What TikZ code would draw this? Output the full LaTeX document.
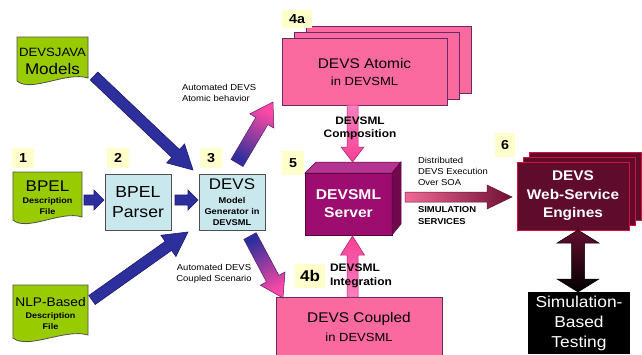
\documentclass[tikz,border=0pt]{standalone}
\usepackage{fontspec}
\setmainfont{Liberation Sans}[FakeStretch=1.1]
\usetikzlibrary{calc,backgrounds,shadows}
\definecolor{docgreen}{HTML}{99CC00}
\definecolor{docedge}{HTML}{505050}
\definecolor{boxblue}{HTML}{C8E8EE}
\definecolor{boxedge}{HTML}{505050}
\definecolor{pinkfill}{HTML}{FB6A9E}
\definecolor{pinkedge}{HTML}{6A2A6A}
\definecolor{labyellow}{HTML}{FFFFCC}
\definecolor{srvfront}{HTML}{9C0D6F}
\definecolor{srvtop}{HTML}{B5348F}
\definecolor{srvside}{HTML}{74084F}
\definecolor{engfill}{HTML}{5E0B2C}
\definecolor{engedge}{HTML}{D4123A}
\definecolor{arrblue}{HTML}{2D2F9C}
\definecolor{arrblueedge}{HTML}{1B1B6E}
\definecolor{arrpink}{HTML}{FF4AA5}
\definecolor{arrpinkedge}{HTML}{B0206E}
\definecolor{arrlight}{HTML}{F06A96}
\definecolor{arrmaroon}{HTML}{6E1034}
\newcommand\fsz[2]{\fontsize{#1}{#2}\selectfont}
\newcommand\fapt[3]{%
  \pgfmathsetmacro\faTx{\faAx+(#2)*\faUx-(#3)*\faUy}%
  \pgfmathsetmacro\faTy{\faAy+(#2)*\faUy+(#3)*\faUx}%
  \coordinate (#1) at (\faTx pt,\faTy pt);}
\newcommand\faprep[2]{%
  \path (#1); \pgfgetlastxy{\faAx}{\faAy}%
  \path (#2); \pgfgetlastxy{\faBx}{\faBy}%
  \pgfmathsetmacro\faAx{\faAx}\pgfmathsetmacro\faAy{\faAy}%
  \pgfmathsetmacro\faBx{\faBx}\pgfmathsetmacro\faBy{\faBy}%
  \pgfmathsetmacro\faDx{\faBx-\faAx}\pgfmathsetmacro\faDy{\faBy-\faAy}%
  \pgfmathsetmacro\faL{veclen(\faDx,\faDy)}%
  \pgfmathsetmacro\faUx{\faDx/\faL}\pgfmathsetmacro\faUy{\faDy/\faL}%
  \pgfmathsetmacro\faSA{atan2(\faDy,\faDx)-90}}
% #1 style, #2 from, #3 to, #4 half shaft, #5 half head, #6 head length
\newcommand\fatarrow[6][]{%
  \faprep{#2}{#3}%
  \pgfmathsetmacro\faS{\faL-#6}%
  \fapt{fp1}{0}{#4}\fapt{fp2}{\faS}{#4}\fapt{fp3}{\faS}{#5}%
  \fapt{fp4}{\faL}{0}\fapt{fp5}{\faS}{-#5}\fapt{fp6}{\faS}{-#4}\fapt{fp7}{0}{-#4}%
  \path[#1] (fp1)--(fp2)--(fp3)--(fp4)--(fp5)--(fp6)--(fp7)--cycle;}
\newcommand\dblarrow[6][]{%
  \faprep{#2}{#3}%
  \pgfmathsetmacro\faS{\faL-#6}%
  \fapt{dp1}{0}{0}\fapt{dp2}{#6}{#5}\fapt{dp3}{#6}{#4}\fapt{dp4}{\faS}{#4}\fapt{dp5}{\faS}{#5}%
  \fapt{dp6}{\faL}{0}\fapt{dp7}{\faS}{-#5}\fapt{dp8}{\faS}{-#4}\fapt{dp9}{#6}{-#4}\fapt{dp10}{#6}{-#5}%
  \path[#1] (dp1)--(dp2)--(dp3)--(dp4)--(dp5)--(dp6)--(dp7)--(dp8)--(dp9)--(dp10)--cycle;}
\newcommand\docpath[1]{(#1.north west) -- (#1.north east) -- ($(#1.south east)+(0,-7)$)
  .. controls ($(#1.south)!0.4!(#1.south east)+(0,-14)$) and ($(#1.south)!0.6!(#1.south west)+(0,8)$) ..
  ($(#1.south west)+(0,-4)$) -- cycle}
\begin{document}
\begin{tikzpicture}[x=1pt,y=-1pt,
  every node/.style={inner sep=0pt, outer sep=0pt},
  numlab/.style={fill=labyellow, minimum width=22pt, minimum height=20pt, font=\bfseries\fsz{13}{15}},
  docnode/.style={align=center},
  docfill/.style={fill=docgreen, draw=docedge, line width=0.8pt},
  bluebox/.style={fill=boxblue, draw=boxedge, line width=0.9pt, align=center},
  pinkbox/.style={fill=pinkfill, draw=pinkedge, line width=0.9pt, align=center},
  note/.style={font=\fsz{8.6}{11}, align=left},
  bluearrow/.style={fill=arrblue, draw=arrblueedge, line width=0.6pt},
  gradarrow/.style={bottom color=arrblue, top color=arrpink, shading angle=\faSA, draw=arrblueedge!60!arrpinkedge, line width=0.5pt},
  pinkarrow/.style={bottom color=arrpink!70!white, top color=arrpink!85!purple, shading angle=\faSA, draw=arrpinkedge, line width=0.5pt},
  srvarrow/.style={bottom color=arrlight, top color=arrmaroon, shading angle=\faSA, draw=arrmaroon, line width=0.5pt},
  darkarrow/.style={bottom color=arrmaroon!90!black, top color=black, shading angle=\faSA, draw=black, line width=0.5pt}
]
\useasboundingbox (0,0) rectangle (642,354);
% documents
\node[docnode, minimum width=71pt, minimum height=48pt, font=\fsz{12}{18}] (java) at (52.5,61)
  {DEVSJAVA\\\fsz{15.5}{18}Models};
\node[docnode, minimum width=69pt, minimum height=52pt, font=\bfseries\fsz{8.2}{11}] (bpel) at (47.5,198)
  {\mdseries\fsz{15.5}{11}BPEL\\[1pt]Description\\File};
\node[docnode, minimum width=75pt, minimum height=57pt, font=\bfseries\fsz{8.2}{11}] (nlp) at (50.5,313.5)
  {\mdseries\fsz{12.5}{11}NLP-Based\\[1.5pt]Description\\File};
\begin{scope}[on background layer]
  \fill[white] (0,0) rectangle (642,354);
  \draw[docfill] \docpath{java};
  \draw[docfill] \docpath{bpel};
  \draw[docfill] \docpath{nlp};
\end{scope}
% boxes
\node[bluebox, minimum width=66pt, minimum height=56pt, font=\fsz{16}{20}] (parser) at (138,202)
  {BPEL\\Parser};
\node[bluebox, minimum width=66pt, minimum height=56pt, font=\bfseries\fsz{8.4}{11}] (gen) at (232,202)
  {\mdseries\fsz{15.4}{11}DEVS\\[2.5pt]Model\\Generator in\\DEVSML};
\node[pinkbox, minimum width=165pt, minimum height=67pt, font=\fsz{11.8}{17},
  double copy shadow={shadow xshift=12pt, shadow yshift=6pt, fill=pinkfill, draw=pinkedge, line width=0.9pt}]
  (atom) at (364.5,71.5) {\fsz{14}{17}DEVS Atomic\\in DEVSML};
\node[pinkbox, minimum width=166pt, minimum height=60pt, font=\fsz{11.8}{19}] (coup) at (359,327)
  {\fsz{14}{19}DEVS Coupled\\in DEVSML};
\node[fill=srvfront, draw=srvside!70!black, line width=0.5pt, minimum width=87pt, minimum height=62pt,
  text=white, font=\bfseries\fsz{14.2}{18}, align=center] (srv) at (348.5,204) {DEVSML\\Server};
\fill[srvtop, draw=srvside!70!black, line width=0.5pt] (srv.north west) -- ($(srv.north west)+(11,-11)$)
  -- ($(srv.north east)+(9,-11)$) -- (srv.north east) -- cycle;
\fill[srvside, draw=srvside!70!black, line width=0.5pt] (srv.north east) -- ($(srv.north east)+(9,-11)$)
  -- ($(srv.south east)+(9,-11)$) -- (srv.south east) -- cycle;
\node[fill=engfill, draw=engedge, line width=0.9pt, minimum width=112pt, minimum height=68pt,
  text=white, font=\bfseries\fsz{14}{18.5}, align=center,
  double copy shadow={shadow xshift=6pt, shadow yshift=5pt, fill=engfill, draw=engedge, line width=0.9pt}]
  (eng) at (573,196) {DEVS\\Web-Service\\Engines};
\node[fill=black, minimum width=102pt, minimum height=62pt, text=white, font=\fsz{15.8}{20}, align=center]
  (test) at (579,323) {Simulation-\\Based\\Testing};
% number labels
\node[numlab] (n1) at (23,158) {1};
\node[numlab] (n2) at (118,158) {2};
\node[numlab] (n3) at (211,158) {3};
\node[numlab, minimum width=30pt, minimum height=18pt] (n4a) at (297,19) {4a};
\node[numlab, minimum height=24pt] (n5) at (293,163) {5};
\node[numlab, minimum width=30pt, minimum height=24pt, font=\bfseries\fsz{15.5}{17}] (n4b) at (310,276) {4b};
\node[numlab, minimum width=20pt, minimum height=24pt] (n6) at (505,145) {6};
% connectors
\coordinate (a1s) at ($(java.south east)+(6,-9)$);
\coordinate (a1e) at ($(gen.north west)+(-6,-4)$);
\fatarrow[bluearrow]{a1s}{a1e}{5.5}{13}{24}
\coordinate (a2s) at ($(bpel.east)+(2,2)$);
\coordinate (a2e) at ($(parser.west)+(-1,-2)$);
\fatarrow[bluearrow]{a2s}{a2e}{5}{10}{10}
\coordinate (a3s) at ($(parser.east)+(4,-2)$);
\coordinate (a3e) at ($(gen.west)+(-1,-2)$);
\fatarrow[bluearrow]{a3s}{a3e}{5}{10}{10}
\coordinate (a4s) at ($(nlp.east)+(4,-13.5)$);
\coordinate (a4e) at ($(gen.south west)+(-11,2)$);
\fatarrow[bluearrow]{a4s}{a4e}{5.5}{13}{24}
\coordinate (a5s) at ($(gen.north)+(5,-11)$);
\coordinate (a5e) at ($(atom.south west)+(-9,-3)$);
\fatarrow[gradarrow]{a5s}{a5e}{7}{14}{22}
\coordinate (a6s) at ($(gen.south)+(18,6)$);
\coordinate (a6e) at ($(coup.north west)+(7,1)$);
\fatarrow[gradarrow]{a6s}{a6e}{7}{14}{22}
\coordinate (a7s) at ($(atom.south)+(-12,0)$);
\coordinate (a7e) at ($(srv.north)+(4,-11)$);
\fatarrow[pinkarrow]{a7s}{a7e}{5.5}{11.5}{15}
\coordinate (a8s) at ($(coup.north)+(-6.5,0)$);
\coordinate (a8e) at ($(srv.south)+(4,1)$);
\fatarrow[pinkarrow]{a8s}{a8e}{5.5}{12}{19}
\coordinate (a9s) at ($(srv.east)+(13,-7)$);
\coordinate (a9e) at ($(eng.west)+(-5,1)$);
\fatarrow[srvarrow]{a9s}{a9e}{5}{12}{25}
\coordinate (a10s) at ($(eng.south)+(5,0)$);
\coordinate (a10e) at ($(test.north)+(-1,0)$);
\dblarrow[darkarrow]{a10s}{a10e}{6.5}{21}{13}
% notes
\node[note, anchor=west] (t1) at (182,93) {Automated DEVS\\Atomic behavior};
\node[note, align=center] (t2) at (214,273.5) {Automated DEVS\\Coupled Scenario};
\node[note, anchor=west] (t3) at (418,171) {Distributed\\DEVS Execution\\Over SOA};
\node[note, anchor=west, font=\bfseries\fsz{8.6}{12}] (t4) at (418,216) {SIMULATION\\SERVICES};
\node[font=\bfseries\fsz{10.8}{13}, align=center] (t5) at (360,128.5) {DEVSML\\Composition};
\node[font=\bfseries\fsz{10.9}{14}, align=left, anchor=west] (t6) at (330,276) {DEVSML\\Integration};
\end{tikzpicture}
\end{document}
